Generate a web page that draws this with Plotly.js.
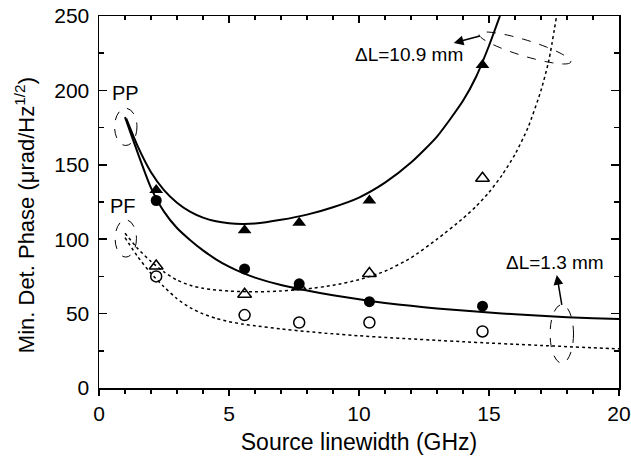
<!DOCTYPE html>
<html>
<head>
<meta charset="utf-8">
<script src="https://cdn.plot.ly/plotly-3.0.1.min.js"></script>
<style>html,body{margin:0;padding:0;background:#fff;}#chart{width:631px;height:461px;}</style>
</head>
<body>
<div id="chart"></div>
<script>
// Measured points (source linewidth, GHz)
const xMeas = [2.2, 5.6, 7.7, 10.4, 14.75];
const ppLong  = [133, 106, 111, 126, 217];   // PP, dL=10.9 mm (filled triangles)
const ppShort = [126, 80, 70, 58, 55];       // PP, dL=1.3 mm (filled circles)
const pfLong  = [82, 63, 68, 77, 141];       // PF, dL=10.9 mm (open triangles)
const pfShort = [75, 49, 44, 44, 38];        // PF, dL=1.3 mm (open circles)

// Fitted curves
const fitPPLongX  = [1.05,1.5,2,2.5,3,3.5,4,4.5,5,5.5,6,7,8,9,10,11,12,13,14,14.5,15,15.42];
const fitPPLongY  = [181,162,145,133,124.5,118.5,114.5,112,110.7,110.2,110.5,113,116.5,121.5,128,138,151.5,169,193,209,230,250];
const fitPPShortX = [1,1.5,2,2.5,3,3.5,4,4.5,5,5.5,6,7,8,9,10,11,12,13,14,15,16,17,18,19,20];
const fitPPShortY = [182,157.5,134.5,118.5,107.5,99.5,92.5,86.5,81.5,77.5,74.2,69.2,65.5,62.3,59.6,57.2,55.2,53.5,52,50.7,49.5,48.5,47.6,46.9,46.3];
const fitPFLongX  = [1,1.5,2,2.5,3,3.5,4,4.5,5,5.5,6,6.5,7,7.5,8,9,10,11,12,13,14,14.5,15,15.5,16,16.5,17,17.3,17.6];
const fitPFLongY  = [104,93.5,85,78,72.5,69,67,65.8,65.1,64.8,64.7,64.8,65.2,65.8,66.6,69,72.8,78.5,87.5,100,114,122,131.5,143,157,175,200,220,250];
const fitPFShortX = [1,1.5,2,2.5,3,3.5,4,4.5,5,5.5,6,7,8,9,10,11,12,13,14,15,16,17,18,19,20];
const fitPFShortY = [101,88,77,68,60,54,49.8,46.8,44.6,43,41.8,39.7,37.9,36.4,35.1,34,33,32,31.1,30.2,29.4,28.6,27.8,27,26.3];

const xTicks = [0, 5, 10, 15, 20];
const yTicks = [0, 50, 100, 150, 200, 250];

const FONT = 'Liberation Sans, Arial, Helvetica, sans-serif';

const traces = [
  {x: fitPPLongX, y: fitPPLongY, mode: 'lines', line: {color: '#000', width: 2, shape: 'spline', smoothing: 0.6}},
  {x: fitPPShortX, y: fitPPShortY, mode: 'lines', line: {color: '#000', width: 2, shape: 'spline', smoothing: 0.6}},
  {x: fitPFLongX, y: fitPFLongY, mode: 'lines', line: {color: '#000', width: 1.5, dash: 'dot', shape: 'spline', smoothing: 0.6}},
  {x: fitPFShortX, y: fitPFShortY, mode: 'lines', line: {color: '#000', width: 1.5, dash: 'dot', shape: 'spline', smoothing: 0.6}},
  {x: xMeas, y: ppLong, mode: 'markers', marker: {symbol: 'triangle-up', size: 12, color: '#000'}},
  {x: xMeas, y: ppShort, mode: 'markers', marker: {symbol: 'circle', size: 11, color: '#000'}},
  {x: xMeas, y: pfLong, mode: 'markers', marker: {symbol: 'triangle-up-open', size: 12, color: '#000', line: {width: 1.5}}},
  {x: xMeas, y: pfShort, mode: 'markers', marker: {symbol: 'circle-open', size: 11, color: '#000', line: {width: 1.5}}},
  {x: [], y: [], xaxis: 'x2', yaxis: 'y', mode: 'markers', hoverinfo: 'skip'}
];

// tilted dashed ellipse around the dL=10.9 mm curves (pixel-space geometry converted to data units)
function tiltedEllipse(cx, cy, a, b, deg) {
  const sx = 26, sy = 1.488, th = deg * Math.PI / 180;
  let p = '';
  for (let i = 0; i <= 72; i++) {
    const t = i / 72 * 2 * Math.PI;
    const dx = a * Math.cos(t) * Math.cos(th) - b * Math.sin(t) * Math.sin(th);
    const dy = a * Math.cos(t) * Math.sin(th) + b * Math.sin(t) * Math.cos(th);
    p += (i === 0 ? 'M' : 'L') + (cx + dx / sx).toFixed(4) + ',' + (cy - dy / sy).toFixed(4);
  }
  return p + 'Z';
}

const dashLine = {color: '#000', width: 1, dash: 'dash'};
const shapes = [
  {type: 'circle', xref: 'x', yref: 'y', x0: 0.6, x1: 1.46, y0: 163, y1: 188, line: dashLine},
  {type: 'circle', xref: 'x', yref: 'y', x0: 0.62, x1: 1.44, y0: 88, y1: 113, line: dashLine},
  {type: 'circle', xref: 'x', yref: 'y', x0: 17.35, x1: 18.25, y0: 16.7, y1: 56, line: dashLine},
  {type: 'path', xref: 'x', yref: 'y', path: tiltedEllipse(16.38, 228.5, 48, 8, 17), line: dashLine}
];

const annFont = {family: FONT, size: 19, color: '#000'};
const annotations = [
  {x: 1.02, y: 198, xref: 'x', yref: 'y', text: 'PP', showarrow: false, font: {family: FONT, size: 20, color: '#000'}},
  {x: 0.92, y: 122.5, xref: 'x', yref: 'y', text: 'PF', showarrow: false, font: {family: FONT, size: 20, color: '#000'}},
  {x: 14.65, y: 236.6, xref: 'x', yref: 'y', text: '\u0394L=10.9 mm', showarrow: true, ax: -71, ay: 19,
   arrowside: 'start', startarrowhead: 2, startarrowsize: 1.3, arrowwidth: 1.5, arrowcolor: '#000', font: annFont},
  {x: 17.8, y: 55.8, xref: 'x', yref: 'y', text: '\u0394L=1.3 mm', showarrow: true, ax: -7, ay: -42,
   arrowside: 'start', startarrowhead: 2, startarrowsize: 1.3, arrowwidth: 1.5, arrowcolor: '#000', font: annFont},
  {x: -0.142, y: 0.465, xref: 'paper', yref: 'paper', xanchor: 'center', yanchor: 'middle', textangle: -90,
   text: 'Min. Det. Phase (\u03bcrad/Hz<sup>1/2</sup>)', showarrow: false, font: {family: FONT, size: 22, color: '#000'}}
];

const axisCommon = {
  showgrid: false, zeroline: false, showline: true, linecolor: '#000', linewidth: 1.5,
  tickcolor: '#000', tickwidth: 1.5, ticklen: 8,
  tickfont: {family: FONT, size: 21, color: '#000'}
};

const layout = {
  width: 631, height: 461,
  margin: {l: 99, r: 12, t: 16, b: 73, pad: 0},
  paper_bgcolor: '#fff', plot_bgcolor: '#fff',
  showlegend: false,
  xaxis: Object.assign({}, axisCommon, {
    range: [0, 20], tickvals: xTicks, ticks: 'outside', ticklen: 6,
    minor: {dtick: 1, ticks: 'outside', ticklen: 4, tickcolor: '#000', tickwidth: 1.5},
    title: {text: 'Source linewidth (GHz)', font: {family: FONT, size: 23, color: '#000'}, standoff: 10}
  }),
  xaxis2: {
    overlaying: 'x', matches: 'x', side: 'top', anchor: 'y', range: [0, 20],
    showgrid: false, zeroline: false, showline: true, linecolor: '#000', linewidth: 1.5,
    tickvals: xTicks, ticks: 'inside', ticklen: 7, tickcolor: '#000', tickwidth: 1.5, showticklabels: false,
    minor: {dtick: 1, ticks: 'inside', ticklen: 4, tickcolor: '#000', tickwidth: 1.5}
  },
  yaxis: Object.assign({}, axisCommon, {
    range: [0, 250], tickvals: yTicks, ticks: 'inside', mirror: 'ticks', ticklabelstandoff: 4,
    minor: {dtick: 25, ticks: 'inside', ticklen: 5, tickcolor: '#000', tickwidth: 1.5}
  }),
  shapes: shapes,
  annotations: annotations
};

Plotly.newPlot('chart', traces, layout, {displayModeBar: false, staticPlot: true});
</script>
</body>
</html>
